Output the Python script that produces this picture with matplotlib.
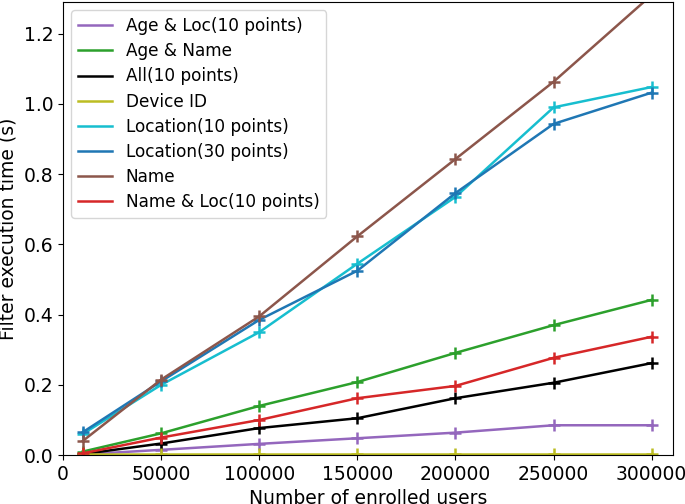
import numpy as np
import matplotlib
matplotlib.use("Agg")
import matplotlib.pyplot as plt
from matplotlib.lines import Line2D

users = [10000, 50000, 100000, 150000, 200000, 250000, 300000]

age_loc = [0.002, 0.015, 0.032, 0.048, 0.064, 0.085, 0.085]
age_name = [0.010, 0.062, 0.140, 0.208, 0.291, 0.370, 0.442]
all_10 = [0.003, 0.033, 0.077, 0.105, 0.162, 0.206, 0.262]
device_id = [0.002, 0.002, 0.002, 0.002, 0.002, 0.002, 0.002]
loc_10 = [0.060, 0.200, 0.350, 0.545, 0.735, 0.990, 1.048]
loc_30 = [0.065, 0.210, 0.385, 0.525, 0.746, 0.943, 1.032]
name = [0.040, 0.215, 0.395, 0.623, 0.843, 1.063, 1.310]
name_loc = [0.005, 0.050, 0.100, 0.162, 0.197, 0.277, 0.337]

series = [
    ("Age & Loc(10 points)", age_loc, "tab:purple"),
    ("Age & Name", age_name, "tab:green"),
    ("All(10 points)", all_10, "black"),
    ("Device ID", device_id, "tab:olive"),
    ("Location(10 points)", loc_10, "tab:cyan"),
    ("Location(30 points)", loc_30, "tab:blue"),
    ("Name", name, "tab:brown"),
    ("Name & Loc(10 points)", name_loc, "tab:red"),
]

plt.rcParams["font.size"] = 13.5

fig = plt.figure(figsize=(6.85, 5.04), dpi=100)
ax = fig.add_axes([0.092, 0.097, 0.890, 0.899])

handles = []
for label, vals, color in series:
    ax.plot(users, vals, marker="+", markersize=9, markeredgewidth=1.8,
            linewidth=1.8, color=color)
    # legend shows only the line, no marker
    handles.append(Line2D([], [], color=color, linewidth=1.8, label=label))

ax.set_xlim(0, 310700)
ax.set_ylim(0, 1.29)
ax.set_xticks([0, 50000, 100000, 150000, 200000, 250000, 300000])
ax.set_xlabel("Number of enrolled users")
ax.set_ylabel("Filter execution time (s)")
ax.legend(handles=handles, loc="upper left", fontsize=12.2, labelspacing=0.42)

fig.savefig("out.png", dpi=100)
